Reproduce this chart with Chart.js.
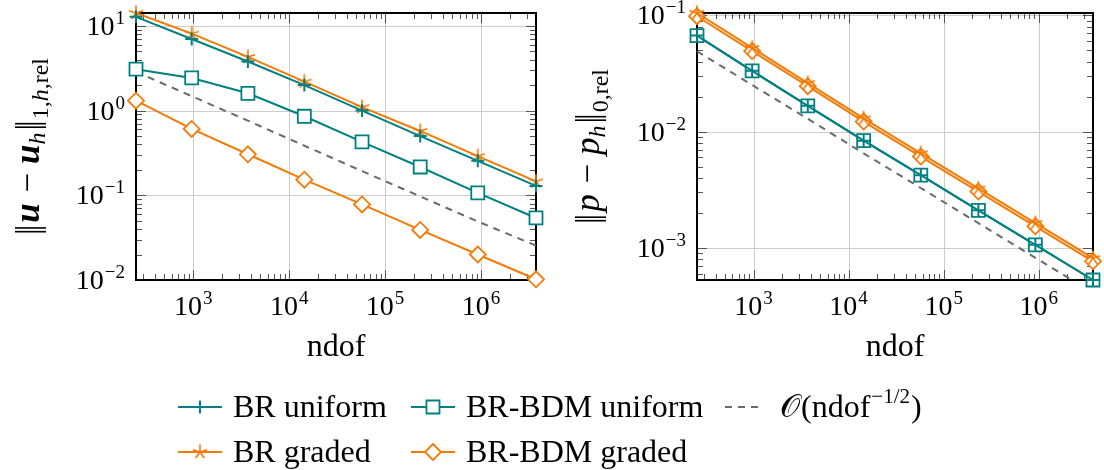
<!DOCTYPE html>
<html>
<head>
<meta charset="UTF-8">
<title>Convergence ndof</title>
<script src="https://cdn.jsdelivr.net/npm/chart.js@4/dist/chart.umd.min.js"></script>
<style>
body { margin:0; background:#fff; }
#wrap { position:relative; width:1104px; height:470px; }
#wrap canvas { position:absolute; left:0; top:0; }
</style>
</head>
<body>
<div id="wrap">
  <canvas id="cu" width="1104" height="470"></canvas>
  <canvas id="cp" width="1104" height="470"></canvas>
</div>
<script>
// degrees of freedom (x values, both panels)
var ndof = [254, 966, 3720, 14400, 57500, 232000, 923000, 3730000];

// left panel: ||u - u_h||_{1,h,rel}
var uBrUniform  = [12.8, 7.0, 3.8, 2.0, 1.0, 0.50, 0.255, 0.129];
var uBdmUniform = [3.08, 2.43, 1.60, 0.857, 0.427, 0.216, 0.107, 0.054];
var uBrGraded   = [14.2, 8.1, 4.3, 2.2, 1.1, 0.575, 0.29, 0.146];
var uBdmGraded  = [1.31, 0.607, 0.305, 0.153, 0.078, 0.039, 0.020, 0.0102];
var uRate       = [2.87, 1.48, 0.76, 0.385, 0.193, 0.097, 0.049, 0.0255];

// right panel: ||p - p_h||_{0,rel}
var pBrUniform  = [0.0671, 0.0334, 0.01667, 0.00835, 0.00422, 0.0021, 0.00106, 0.000528];
var pBdmUniform = [0.0671, 0.0334, 0.01667, 0.00835, 0.00422, 0.0021, 0.00106, 0.000528];
var pBrGraded   = [0.105, 0.0525, 0.0262, 0.0130, 0.0065, 0.00324, 0.00163, 0.000815];
var pBdmGraded  = [0.0985, 0.0494, 0.0246, 0.0122, 0.0061, 0.00305, 0.00153, 0.000765];
var pRate       = [0.0492, 0.0252, 0.0129, 0.0065, 0.00327, 0.00163, 0.00082, 0.00041];

var xTicks = [1e3, 1e4, 1e5, 1e6];
var uTicks = [1e-2, 1e-1, 1e0, 1e1];
var pTicks = [1e-3, 1e-2, 1e-1];

var legendNames = ['BR uniform', 'BR-BDM uniform', 'BR graded', 'BR-BDM graded'];

var TEAL = '#008080';
var ORANGE = '#f47a06';
var GREY = '#6a6a6a';
var SERIF = '"Liberation Serif", "DejaVu Serif", serif';
var F_TICK = '28px ' + SERIF;
var F_SUP = '19px ' + SERIF;
var F_TXT = '32px ' + SERIF;
var F_TTL = '35px ' + SERIF;
var F_SUB = '24px ' + SERIF;
var F_BAR = '300 33px ' + SERIF;

function pts(arr) {
    return ndof.map(function (n, i) { return { x: n, y: arr[i] }; });
}

// marks as pgfplots draws them
function drawMark(g, kind, x, y, color) {
    g.save();
    g.strokeStyle = color;
    g.fillStyle = '#fff';
    g.beginPath();
    if (kind == 'plus') {
        g.lineWidth = 2;
        g.moveTo(x - 6.5, y); g.lineTo(x + 6.5, y);
        g.moveTo(x, y - 6.5); g.lineTo(x, y + 6.5);
        g.stroke();
    } else if (kind == 'square') {
        g.lineWidth = 1.8;
        g.rect(x - 6.5, y - 6.5, 13, 13);
        g.fill(); g.stroke();
    } else if (kind == 'diamond') {
        g.lineWidth = 1.8;
        g.moveTo(x, y - 8); g.lineTo(x + 8, y); g.lineTo(x, y + 8); g.lineTo(x - 8, y);
        g.closePath();
        g.fill(); g.stroke();
    } else if (kind == 'star') {
        g.lineWidth = 1.6;
        for (var k = 0; k < 5; k++) {
            var a = -Math.PI / 2 + k * 2 * Math.PI / 5;
            g.moveTo(x, y);
            g.lineTo(x + 7.5 * Math.cos(a), y + 7.5 * Math.sin(a));
        }
        g.stroke();
    }
    g.restore();
}

function starImage(color) {
    var c = document.createElement('canvas');
    c.width = 20; c.height = 20;
    drawMark(c.getContext('2d'), 'star', 10, 10, color);
    return c;
}

// text made of runs with their own font and vertical shift
function drawRich(g, parts, x, y, align, rotate) {
    g.save();
    g.translate(x, y);
    if (rotate) g.rotate(-Math.PI / 2);
    var w = 0;
    parts.forEach(function (p) { g.font = p.f; p.w = g.measureText(p.t).width; w += p.w + (p.gap || 0); });
    var cx = align == 'center' ? -w / 2 : (align == 'right' ? -w : 0);
    g.textAlign = 'left';
    g.textBaseline = 'alphabetic';
    g.fillStyle = '#000';
    parts.forEach(function (p) {
        g.font = p.f;
        g.fillText(p.t, cx, p.dy || 0);
        cx += p.w + (p.gap || 0);
    });
    g.restore();
}

function powParts(v) {
    var e = Math.round(Math.log10(v));
    var s = e < 0 ? '\u2212' + (-e) : String(e);
    return [{ t: '10', f: F_TICK, gap: 1 }, { t: s, f: F_SUP, dy: -11 }];
}

// double bar of a norm, built from two '|'
function normBar(after) {
    return [{ t: '|', f: F_BAR, gap: -3 }, { t: '|', f: F_BAR, gap: after }];
}

function line(g, x1, y1, x2, y2) {
    g.beginPath(); g.moveTo(x1, y1); g.lineTo(x2, y2); g.stroke();
}

function axesPlugin(yTicks, yTitle) {
    return {
        id: 'pgfaxes',
        beforeDatasetsDraw: function (chart) {
            var g = chart.ctx, a = chart.chartArea, xs = chart.scales.x, ys = chart.scales.y;
            g.save();
            // major grid
            g.strokeStyle = '#cccccc';
            g.lineWidth = 1;
            xTicks.forEach(function (v) {
                var px = Math.round(xs.getPixelForValue(v)) + 0.5;
                line(g, px, a.top, px, a.bottom);
            });
            yTicks.forEach(function (v) {
                var py = Math.round(ys.getPixelForValue(v)) + 0.5;
                if (py > a.top + 1 && py < a.bottom - 1) line(g, a.left, py, a.right, py);
            });
            // ticks inside on all four sides
            g.strokeStyle = '#555';
            g.lineWidth = 1;
            function ticksFor(scale, lo, hi, horiz) {
                for (var e = Math.floor(Math.log10(lo)); e <= Math.ceil(Math.log10(hi)); e++) {
                    for (var m = 1; m <= 9; m++) {
                        var v = m * Math.pow(10, e);
                        if (v < lo * 0.999 || v > hi * 1.001) continue;
                        var len = m == 1 ? 10 : 6;
                        var p = Math.round(scale.getPixelForValue(v)) + 0.5;
                        if (horiz) {
                            line(g, p, a.bottom, p, a.bottom - len);
                            line(g, p, a.top, p, a.top + len);
                        } else {
                            line(g, a.left, p, a.left + len, p);
                            line(g, a.right, p, a.right - len, p);
                        }
                    }
                }
            }
            ticksFor(xs, xs.min, xs.max, true);
            ticksFor(ys, ys.min, ys.max, false);
            // frame
            g.strokeStyle = '#000';
            g.lineWidth = 2;
            g.strokeRect(a.left, a.top, a.right - a.left, a.bottom - a.top);
            g.restore();
        },
        afterDraw: function (chart) {
            var g = chart.ctx, a = chart.chartArea, xs = chart.scales.x, ys = chart.scales.y;
            xTicks.forEach(function (v) {
                drawRich(g, powParts(v), xs.getPixelForValue(v), 315, 'center', false);
            });
            yTicks.forEach(function (v) {
                drawRich(g, powParts(v), a.left - 11, ys.getPixelForValue(v) + 9, 'right', false);
            });
            drawRich(g, [{ t: 'ndof', f: F_TXT }], (a.left + a.right) / 2, 356, 'center', false);
            drawRich(g, yTitle.parts, yTitle.x, (a.top + a.bottom) / 2, 'center', true);
        }
    };
}

function legendPlugin() {
    return {
        id: 'pgflegend',
        afterDraw: function (chart) {
            var g = chart.ctx;
            var rows = [407, 452];
            var items = [
                { x: 178, row: 0, color: TEAL, mark: 'plus', text: legendNames[0] },
                { x: 411, row: 0, color: TEAL, mark: 'square', text: legendNames[1] },
                { x: 178, row: 1, color: ORANGE, mark: 'star', text: legendNames[2] },
                { x: 411, row: 1, color: ORANGE, mark: 'diamond', text: legendNames[3] }
            ];
            g.save();
            items.forEach(function (it) {
                var y = rows[it.row];
                g.strokeStyle = it.color;
                g.lineWidth = 2;
                line(g, it.x, y, it.x + 44, y);
                drawMark(g, it.mark, it.x + 22, y, it.color);
                drawRich(g, [{ t: it.text, f: F_TXT }], it.x + 55, y + 10, 'left', false);
            });
            // reference rate
            g.strokeStyle = GREY;
            g.lineWidth = 2;
            g.setLineDash([7, 6]);
            line(g, 725, rows[0], 762, rows[0]);
            g.setLineDash([]);
            drawRich(g, [
                { t: '\u{1D4AA}', f: F_TXT, gap: 1 },
                { t: '(ndof', f: F_TXT, gap: 1 },
                { t: '\u22121/2', f: '21px ' + SERIF, dy: -14, gap: 1 },
                { t: ')', f: F_TXT }
            ], 780, rows[0] + 10, 'left', false);
            g.restore();
        }
    };
}

function datasets(brU, bdmU, brG, bdmG, rate) {
    return [
        { label: legendNames[0], data: pts(brU), borderColor: TEAL, borderWidth: 2,
          pointStyle: 'cross', pointRadius: 6.5, pointBorderWidth: 2, pointBorderColor: TEAL,
          clip: false, order: 0 },
        { label: legendNames[2], data: pts(brG), borderColor: ORANGE, borderWidth: 2,
          pointStyle: starImage(ORANGE), pointRadius: 7, clip: false, order: 1 },
        { label: legendNames[1], data: pts(bdmU), borderColor: TEAL, borderWidth: 2,
          pointStyle: 'rect', pointRadius: 9.2, pointBorderWidth: 1.8, pointBorderColor: TEAL,
          pointBackgroundColor: '#fff', clip: false, order: 2 },
        { label: legendNames[3], data: pts(bdmG), borderColor: ORANGE, borderWidth: 2,
          pointStyle: 'rectRot', pointRadius: 8, pointBorderWidth: 1.8, pointBorderColor: ORANGE,
          pointBackgroundColor: '#fff', clip: false, order: 3 },
        { label: 'rate', data: pts(rate), borderColor: GREY, borderWidth: 2, borderDash: [7, 6],
          pointRadius: 0, clip: 0, order: 4 }
    ];
}

function makeChart(id, ds, yMin, yMax, pad, plugins) {
    return new Chart(document.getElementById(id), {
        type: 'line',
        data: { datasets: ds },
        options: {
            responsive: false,
            animation: false,
            devicePixelRatio: 1,
            events: [],
            layout: { padding: pad },
            plugins: { legend: { display: false }, tooltip: { enabled: false } },
            scales: {
                x: { type: 'logarithmic', min: ndof[0], max: ndof[ndof.length - 1], display: false },
                y: { type: 'logarithmic', min: yMin, max: yMax, display: false }
            }
        },
        plugins: plugins
    });
}

var uTitle = {
    x: 39,
    parts: normBar(2).concat([
        { t: 'u', f: 'italic bold ' + F_TTL, gap: 2 },
        { t: ' \u2212 ', f: F_TTL },
        { t: 'u', f: 'italic bold ' + F_TTL },
        { t: 'h', f: 'italic ' + F_SUB, dy: 6, gap: 2 }
    ], normBar(1), [
        { t: '1,', f: F_SUB, dy: 9 },
        { t: 'h', f: 'italic ' + F_SUB, dy: 9 },
        { t: ',rel', f: F_SUB, dy: 9 }
    ])
};
var pTitle = {
    x: 599,
    parts: normBar(2).concat([
        { t: 'p', f: 'italic ' + F_TTL, gap: 2 },
        { t: ' \u2212 ', f: F_TTL },
        { t: 'p', f: 'italic ' + F_TTL },
        { t: 'h', f: 'italic ' + F_SUB, dy: 6, gap: 2 }
    ], normBar(1), [
        { t: '0,rel', f: F_SUB, dy: 9 }
    ])
};

makeChart('cu', datasets(uBrUniform, uBdmUniform, uBrGraded, uBdmGraded, uRate),
    0.01, 14.2, { left: 136, top: 13, right: 1104 - 536, bottom: 470 - 280 },
    [axesPlugin(uTicks, uTitle), legendPlugin()]);

makeChart('cp', datasets(pBrUniform, pBdmUniform, pBrGraded, pBdmGraded, pRate),
    0.000528, 0.105, { left: 697, top: 13, right: 1104 - 1098, bottom: 470 - 280 },
    [axesPlugin(pTicks, pTitle)]);
</script>
</body>
</html>
